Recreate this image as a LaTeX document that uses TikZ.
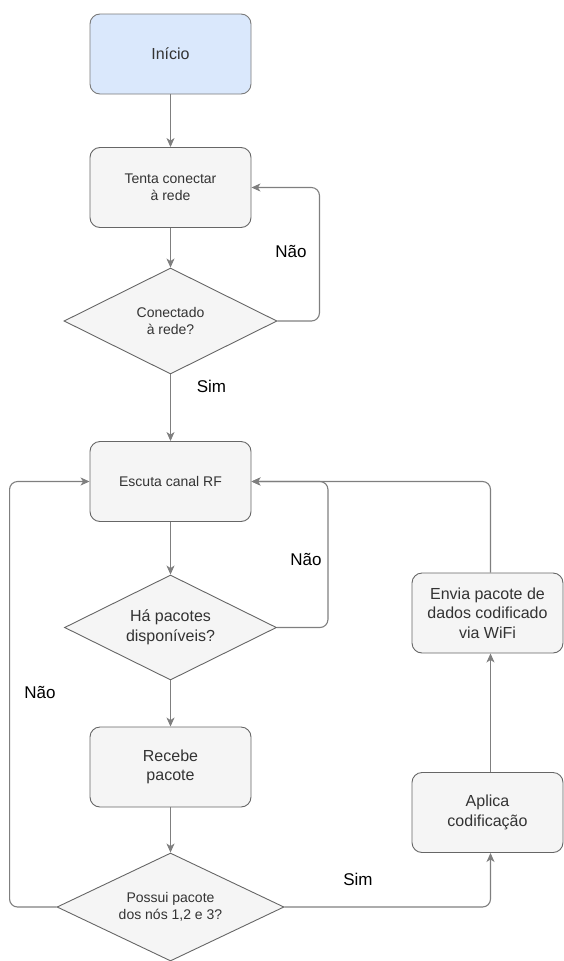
\documentclass[tikz,border=0pt]{standalone}
\usepackage{fontspec}
\setmainfont{Liberation Sans}
\usetikzlibrary{shapes.geometric,arrows.meta}
\definecolor{boxfill}{HTML}{F5F5F5}
\definecolor{boxline}{HTML}{666666}
\definecolor{startfill}{HTML}{DAE8FC}
\definecolor{startline}{HTML}{7A7A7A}
\definecolor{txt}{HTML}{333333}
\definecolor{wire}{HTML}{7F7F7F}

\begin{document}
\begin{tikzpicture}[x=1pt,y=-1pt,
  proc/.style={draw=boxline, fill=boxfill, rounded corners=10pt,
    minimum width=161pt, minimum height=80pt, inner sep=0pt,
    align=center, text=txt, line width=0.9pt},
  small/.style={font=\fontsize{14}{17}\selectfont},
  medium/.style={font=\fontsize{16}{19.5}\selectfont},
  decision/.style={diamond, shape aspect=2, draw=boxline, fill=boxfill, inner sep=0pt,
    align=center, text=txt, line width=0.9pt},
  flow/.style={draw=wire, line width=1.1pt, rounded corners=8pt,
    -{Stealth[length=9pt,width=8pt,inset=2.5pt]}},
  lbl/.style={font=\fontsize{17}{20}\selectfont, text=black}
]
\useasboundingbox (0,0) rectangle (564,961);

% process steps and decisions
\node[proc, medium, fill=startfill, draw=startline] (inicio) at (170.5,54) {Início};
\node[proc, small] (tenta) at (170.5,187.5) {Tenta conectar\\à rede};
\node[decision, small, minimum width=213pt, minimum height=106pt] (d1) at (170.5,321) {Conectado\\à rede?};
\node[proc, small] (escuta) at (170.5,481.5) {Escuta canal RF};
\node[decision, medium, minimum width=212pt, minimum height=105pt] (d2) at (170.5,627.5) {Há pacotes\\disponíveis?};
\node[proc, medium] (recebe) at (170.5,767) {Recebe\\pacote};
\node[decision, small, minimum width=227pt, minimum height=108pt] (d3) at (170.5,907) {Possui pacote\\dos nós 1,2 e 3?};
\node[proc, medium, minimum width=151pt] (aplica) at (487.5,812.5) {Aplica\\codificação};
\node[proc, medium, minimum width=151pt] (envia) at (487.5,613) {Envia pacote de\\dados codificado\\via WiFi};

% connectors
\draw[flow] (inicio) -- (tenta);
\draw[flow] (tenta) -- (d1);
\draw[flow] (d1.east) -- ++(42,0) |- (tenta.east);
\draw[flow] (d1) -- (escuta);
\draw[flow] (escuta) -- (d2);
\draw[flow] (d2.east) -- ++(51,0) |- (escuta.east);
\draw[flow] (d2) -- (recebe);
\draw[flow] (recebe) -- (d3);
\draw[flow] (d3.west) -- ++(-47,0) |- (escuta.west);
\draw[flow] (d3.east) -| ([xshift=3pt]aplica.south);
\draw[flow] ([xshift=3pt]aplica.north) -- ([xshift=3pt]envia.south);
\draw[flow] ([xshift=3pt]envia.north) |- (escuta.east);

% branch labels
\node[lbl] (nao1) at (291,251) {Não};
\node[lbl] (sim1) at (211.5,386) {Sim};
\node[lbl] (nao2) at (306,559) {Não};
\node[lbl] (nao3) at (40,692) {Não};
\node[lbl] (sim2) at (358,879) {Sim};
\end{tikzpicture}
\end{document}
